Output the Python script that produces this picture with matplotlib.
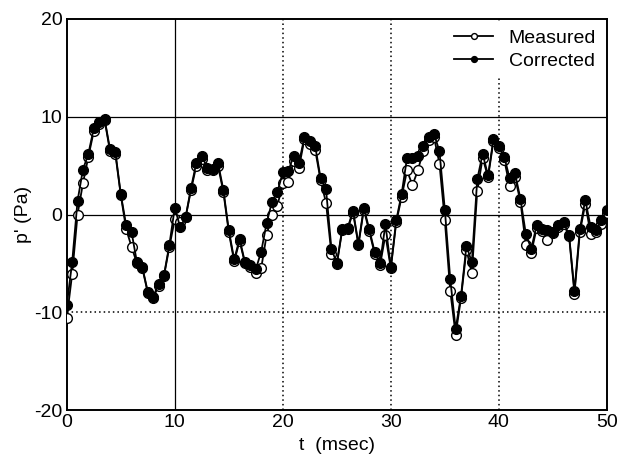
import numpy as np
import matplotlib
matplotlib.use("Agg")
import matplotlib.pyplot as plt

plt.rcParams["font.family"] = ["Liberation Sans", "DejaVu Sans"]
plt.rcParams["axes.unicode_minus"] = False

# time axis: samples every 0.5 msec
t = np.arange(101) * 0.5

measured = [
    -10.6, -6.1, 0.0, 3.2, 5.9, 8.5, 9.3, 9.7, 6.5, 6.2,
    2.0, -1.5, -3.3, -5.0, -5.5, -8.0, -8.5, -7.3, -6.3, -3.3,
    -0.5, -0.8, -0.3, 2.5, 5.0, 5.7, 4.6, 4.5, 5.0, 2.3,
    -1.8, -4.8, -2.7, -5.0, -5.4, -6.0, -5.5, -2.1, 0.0, 0.9,
    3.2, 3.3, 5.5, 4.8, 7.7, 7.2, 6.6, 3.5, 1.2, -4.0,
    -5.1, -1.6, -1.5, 0.2, -3.1, 0.5, -1.7, -4.0, -5.2, -2.1,
    -5.5, -0.8, 1.8, 4.5, 3.0, 4.5, 6.5, 7.6, 7.9, 5.2,
    -0.6, -7.8, -12.3, -8.5, -3.6, -6.0, 2.4, 5.8, 3.8, 7.5,
    6.8, 5.6, 2.9, 3.8, 1.3, -3.1, -3.9, -1.4, -1.7, -2.6,
    -1.9, -1.3, -1.0, -2.2, -8.1, -1.8, 1.1, -2.0, -1.8, -1.0,
    0.2,
]

corrected = [
    -9.3, -4.9, 1.4, 4.6, 6.2, 8.8, 9.5, 9.8, 6.7, 6.4,
    2.1, -1.1, -1.8, -4.9, -5.4, -7.9, -8.4, -7.1, -6.2, -3.1,
    0.7, -1.3, -0.3, 2.7, 5.3, 6.0, 4.8, 4.7, 5.3, 2.5,
    -1.6, -4.6, -2.5, -4.9, -5.2, -5.6, -3.8, -0.9, 1.3, 2.3,
    4.3, 4.4, 6.0, 5.3, 7.9, 7.5, 7.0, 3.7, 2.6, -3.5,
    -5.0, -1.5, -1.4, 0.4, -3.0, 0.7, -1.5, -3.8, -5.0, -1.0,
    -5.4, -0.6, 2.1, 5.8, 5.8, 6.0, 7.0, 7.9, 8.2, 6.5,
    0.5, -6.6, -11.7, -8.3, -3.2, -4.9, 3.6, 6.2, 4.0, 7.7,
    7.0, 5.9, 3.7, 4.2, 1.6, -2.0, -3.5, -1.1, -1.5, -1.6,
    -1.8, -1.1, -0.8, -2.1, -7.8, -1.5, 1.5, -1.3, -1.6, -0.6,
    0.5,
]

fig = plt.figure(figsize=(6.18, 4.73), dpi=100)
ax = fig.add_axes([0.108, 0.133, 0.874, 0.827])

# grid: some lines solid, others dotted (as in the original)
ax.axvline(10, color="black", lw=0.9, zorder=1)
for xv in (20, 30, 40):
    ax.axvline(xv, color="black", lw=1.1, ls=(0, (1, 2)), zorder=1)
ax.axhline(10, color="black", lw=0.9, zorder=1)
ax.axhline(0, color="black", lw=0.9, zorder=1)
ax.axhline(-10, color="black", lw=1.1, ls=(0, (1, 2)), zorder=1)

ax.plot(t, measured, color="black", lw=1.3, marker="o", markersize=7,
        markerfacecolor="white", markeredgecolor="black", markeredgewidth=1.0,
        label="Measured", zorder=3)
ax.plot(t, corrected, color="black", lw=1.3, marker="o", markersize=7,
        markerfacecolor="black", markeredgecolor="black",
        label="Corrected", zorder=4)

ax.set_xlim(0, 50)
ax.set_ylim(-20, 20)
ax.set_xticks([0, 10, 20, 30, 40, 50])
ax.set_yticks([-20, -10, 0, 10, 20])
ax.tick_params(length=0, labelsize=14, pad=3)
for s in ax.spines.values():
    s.set_linewidth(1.4)

ax.set_xlabel("t  (msec)", fontsize=14, labelpad=4)
ax.set_ylabel("p' (Pa)", fontsize=14, labelpad=2)

leg = ax.legend(loc="upper right", fontsize=14, handlelength=2.0,
                borderaxespad=0.15, fancybox=False, frameon=True,
                framealpha=1, markerscale=0.6, labelspacing=0.25,
                handletextpad=0.8)
leg.get_frame().set_edgecolor("none")
leg.get_frame().set_facecolor("white")

fig.savefig("out.png", dpi=100)
